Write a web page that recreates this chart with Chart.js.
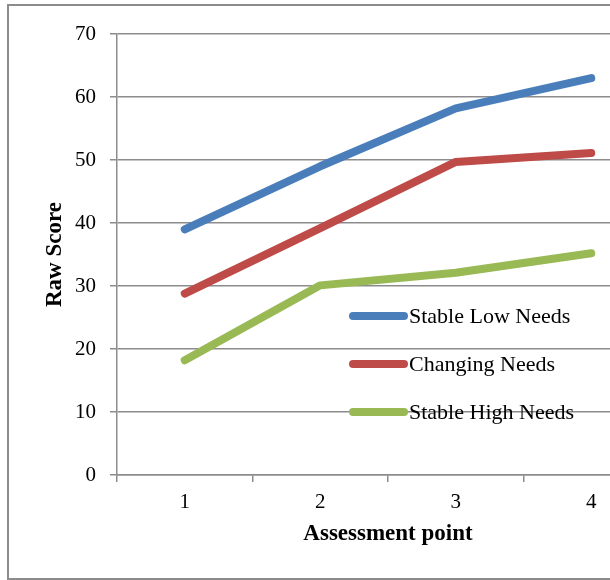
<!DOCTYPE html>
<html>
<head>
<meta charset="utf-8">
<script src="https://cdn.jsdelivr.net/npm/chart.js@4"></script>
<style>
  html, body { margin: 0; padding: 0; overflow: hidden; background: #fff; width: 610px; height: 580px; }
  #frame { position: absolute; left: 7px; top: 4px; width: 700px; height: 572px; border: 2px solid #8c8c8c; }
  #chart { position: absolute; left: 0; top: 0; }
</style>
</head>
<body>
<div id="frame"></div>
<canvas id="chart" width="670" height="580"></canvas>
<script>
// --- Dados ---
const assessmentPoints = ['1', '2', '3', '4'];
const stableLow = [39, 49, 58.2, 63];
const changing = [28.8, 39.2, 49.7, 51.1];
const stableHigh = [18.2, 30.1, 32.1, 35.2];
const yTicks = [0, 10, 20, 30, 40, 50, 60, 70];

const FONT = "'Liberation Serif', 'Times New Roman', serif";
const GRID = '#8c8c8c';

// --- Legenda desenhada dentro da área do gráfico ---
const insideLegend = {
    id: 'insideLegend',
    afterDraw(chart) {
        const ctx = chart.ctx;
        const rows = [316, 364, 412];
        ctx.save();
        chart.data.datasets.forEach((ds, i) => {
            const y = rows[i];
            ctx.strokeStyle = ds.borderColor;
            ctx.lineWidth = 8;
            ctx.lineCap = 'round';
            ctx.beginPath();
            ctx.moveTo(353, y);
            ctx.lineTo(404, y);
            ctx.stroke();
            ctx.fillStyle = '#000';
            ctx.font = '22px ' + FONT;
            ctx.textBaseline = 'middle';
            ctx.textAlign = 'left';
            ctx.fillText(ds.label, 409, y + 1);
        });
        ctx.restore();
    }
};

function makeLine(label, data, color) {
    return {
        label: label,
        data: data,
        borderColor: color,
        backgroundColor: color,
        borderWidth: 8,
        borderCapStyle: 'round',
        borderJoinStyle: 'round',
        pointRadius: 0,
        tension: 0
    };
}

new Chart(document.getElementById('chart').getContext('2d'), {
    type: 'line',
    data: {
        labels: assessmentPoints,
        datasets: [
            makeLine('Stable Low Needs', stableLow, '#4a7ebb'),
            makeLine('Changing Needs', changing, '#be4b48'),
            makeLine('Stable High Needs', stableHigh, '#98b954')
        ]
    },
    options: {
        responsive: false,
        animation: false,
        layout: { padding: { left: 37, top: 34, right: 11, bottom: 28 } },
        plugins: {
            legend: { display: false },
            tooltip: { enabled: false }
        },
        scales: {
            x: {
                type: 'category',
                offset: true,
                afterFit: s => { s.height = 77; },
                grid: {
                    offset: true,
                    drawOnChartArea: false,
                    drawTicks: true,
                    tickLength: 7,
                    color: GRID,
                    lineWidth: 1.5
                },
                border: { display: true, color: GRID, width: 1.5 },
                ticks: { color: '#000', padding: 8, font: { family: FONT, size: 21 } },
                title: {
                    display: true,
                    text: 'Assessment point',
                    color: '#000',
                    font: { family: FONT, size: 23, weight: 'bold' }
                }
            },
            y: {
                min: 0,
                max: 70,
                afterFit: s => { s.width = 80; },
                afterBuildTicks: s => { s.ticks = yTicks.map(v => ({ value: v })); },
                grid: { color: GRID, lineWidth: 1.5, tickLength: 7 },
                border: { display: true, color: GRID, width: 1.5 },
                ticks: { color: '#000', padding: 14, font: { family: FONT, size: 21 } },
                title: {
                    display: true,
                    text: 'Raw Score',
                    color: '#000',
                    font: { family: FONT, size: 23, weight: 'bold' }
                }
            }
        }
    },
    plugins: [insideLegend]
});
</script>
</body>
</html>
